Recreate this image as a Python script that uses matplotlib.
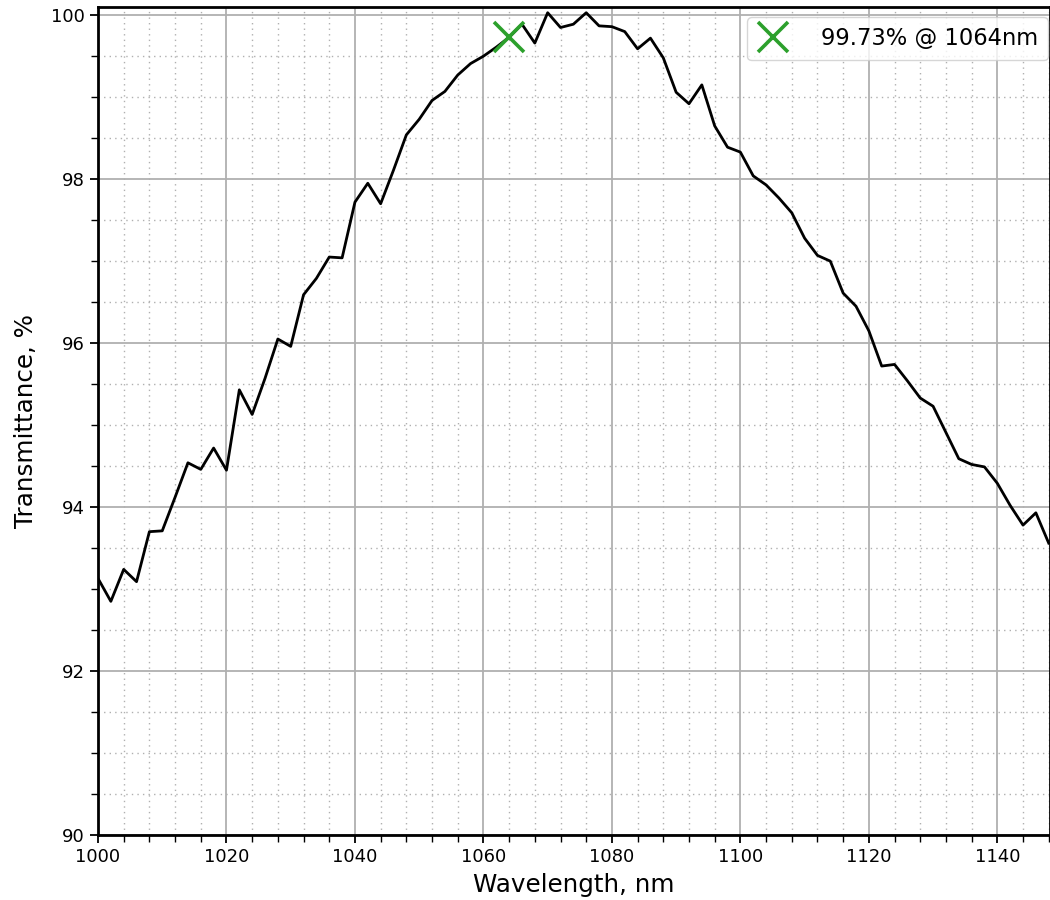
import matplotlib
matplotlib.use("Agg")
import matplotlib.pyplot as plt
from matplotlib.ticker import MultipleLocator

wavelength = list(range(1000, 1150, 2))
transmittance = [
    93.13, 92.85, 93.24, 93.09, 93.70, 93.71, 94.12, 94.54, 94.46, 94.72,
    94.45, 95.43, 95.13, 95.57, 96.05, 95.96, 96.59, 96.79, 97.05, 97.04,
    97.72, 97.95, 97.70, 98.11, 98.54, 98.73, 98.96, 99.07, 99.27, 99.41,
    99.50, 99.61, 99.73, 99.89, 99.66, 100.03, 99.85, 99.89, 100.03, 99.87,
    99.86, 99.80, 99.59, 99.72, 99.48, 99.06, 98.92, 99.15, 98.65, 98.39,
    98.33, 98.04, 97.93, 97.77, 97.59, 97.28, 97.07, 97.00, 96.61, 96.45,
    96.15, 95.72, 95.74, 95.54, 95.33, 95.23, 94.91, 94.59, 94.52, 94.49,
    94.29, 94.02, 93.78, 93.93, 93.56,
]
mark_x = 1064
mark_y = 99.73
mark_label = "99.73% @ 1064nm"

fig = plt.figure(figsize=(10.5, 9), dpi=100)
ax = fig.add_axes([98/1050, 65/900, (1050-98)/1050, (835-7)/900])

ax.plot(wavelength, transmittance, color="black", lw=2.0)
ax.plot([mark_x], [mark_y], linestyle="none", marker="x", color="#2ca02c",
        markersize=21, markeredgewidth=2.6, label=mark_label)

ax.set_xlim(1000, 1148.2)
ax.set_ylim(90, 100.1)
ax.xaxis.set_major_locator(MultipleLocator(20))
ax.xaxis.set_minor_locator(MultipleLocator(4))
ax.yaxis.set_major_locator(MultipleLocator(2))
ax.yaxis.set_minor_locator(MultipleLocator(0.5))
ax.grid(which="major", color="#b0b0b0", lw=1.3)
ax.grid(which="minor", color="#b0b0b0", lw=1.0, linestyle=(0, (1, 3)))
for s in ax.spines.values():
    s.set_linewidth(2.0)
ax.tick_params(which="major", labelsize=13, length=6, width=1.3)
ax.tick_params(which="minor", length=5, width=1.0)
ax.set_xlabel("Wavelength, nm", fontsize=17.7, labelpad=5)
ax.set_ylabel("Transmittance, %", fontsize=17.7, labelpad=9)
ax.legend(loc="upper right", fontsize=16.3, handletextpad=1.4, borderpad=0.45,
          handlelength=1.4, borderaxespad=0.0,
          bbox_to_anchor=(1048/1050, (900-17)/900), bbox_transform=fig.transFigure)

fig.savefig("out.png", dpi=100)
